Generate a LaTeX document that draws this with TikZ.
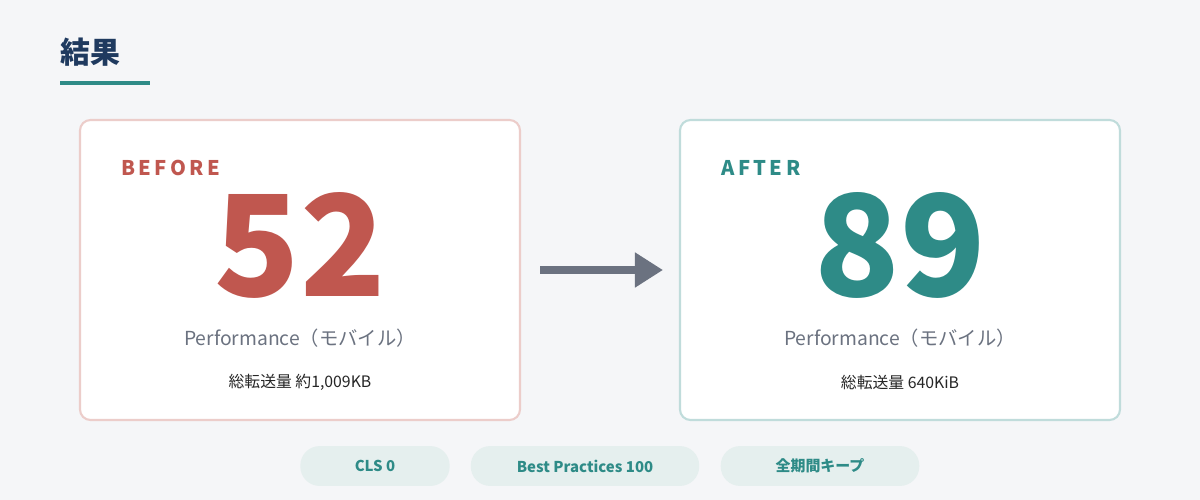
\documentclass[tikz,border=0pt]{standalone}
\usepackage{fontspec}
\setmainfont{Noto Sans CJK JP}
\usetikzlibrary{positioning,arrows.meta}
\definecolor{bg}{HTML}{F5F6F8}
\definecolor{navy}{HTML}{1F3A5F}
\definecolor{teal}{HTML}{2E8B87}
\definecolor{rust}{HTML}{C0574F}
\definecolor{slate}{HTML}{6B7280}
\definecolor{pill}{HTML}{E5EFEE}
\tikzset{
  card/.style={draw=#1,line width=1.2pt,fill=white,rounded corners=6pt},
  tag/.style={font=\bfseries\fontsize{11.5}{12}\selectfont,anchor=west,inner sep=0pt},
  score/.style={font=\bfseries\fontsize{80}{80}\selectfont,inner sep=0pt},
  metric/.style={font=\fontsize{11}{12}\selectfont,text=slate,inner sep=0pt},
  size/.style={font=\fontsize{9}{10}\selectfont,text=black!85,inner sep=0pt},
  badge/.style={fill=pill,rounded corners=11pt,minimum height=22.7pt,text=teal,
    font=\bfseries\fontsize{8.5}{9}\selectfont,inner sep=0pt}
}
\begin{document}
\begin{tikzpicture}[x=0.02cm,y=-0.02cm]
  % background
  \fill[bg] (0,0) rectangle (1200,500);
  % title
  \node[anchor=west,inner sep=0pt,text=navy,font=\bfseries\fontsize{17}{18}\selectfont] (title) at (60,52) {結果};
  \draw[teal,line width=2.3pt] (60,83) -- (150,83);
  % cards
  \draw[card=rust!30] (80,120) rectangle (520,420);
  \draw[card=teal!30] (680,120) rectangle (1120,420);
  \node[tag,text=rust] (before) at (121,168) {B\,E\,F\,O\,R\,E};
  \node[tag,text=teal] (after) at (721,168) {A\,F\,T\,E\,R};
  \node[score,text=rust] (old) at (300,245) {52};
  \node[score,text=teal] (new) at (900,245) {89};
  \node[metric] (oldlab) at (300,338) {Performance（モバイル）};
  \node[metric] (newlab) at (900,338) {Performance（モバイル）};
  \node[size] (oldsize) at (300,382) {総転送量 約1,009KB};
  \node[size] (newsize) at (900,382) {総転送量 640KiB};
  % arrow
  \coordinate (a0) at (540,270);
  \coordinate (a1) at (663,270);
  \draw[slate,line width=4.5pt,-{Triangle[length=16pt,width=19pt]}] (a0) -- (a1);
  % badges
  \node[badge,minimum width=85pt] (cls) at (375,466) {CLS 0};
  \node[badge,minimum width=130pt] (bp) at (585,466) {Best Practices 100};
  \node[badge,minimum width=113pt] (keep) at (820,466) {全期間キープ};
\end{tikzpicture}
\end{document}
